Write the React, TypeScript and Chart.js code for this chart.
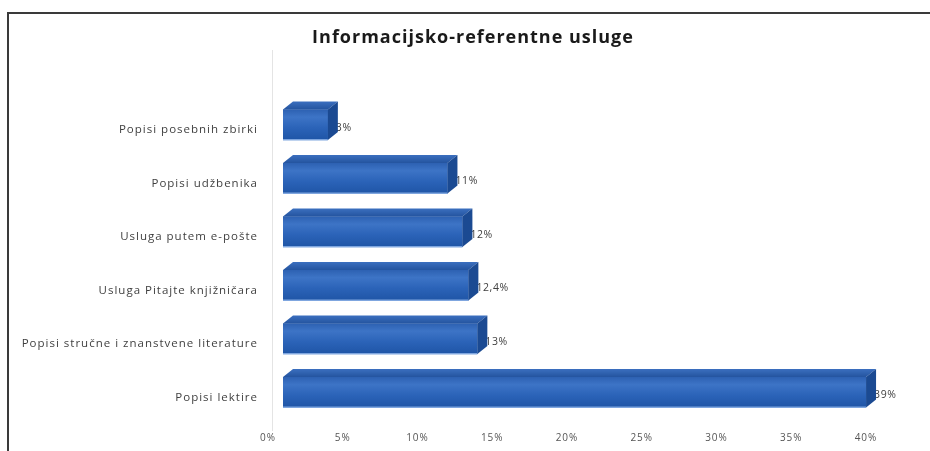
import React, { useEffect, useRef } from "react";
import { Chart, registerables } from "chart.js";

Chart.register(...registerables);

const categories = [
  "Popisi posebnih zbirki",
  "Popisi udžbenika",
  "Usluga putem e-pošte",
  "Usluga Pitajte knjižničara",
  "Popisi stručne i znanstvene literature",
  "Popisi lektire",
];
const values = [3, 11, 12, 12.4, 13, 39];
const valueLabels = ["3%", "11%", "12%", "12,4%", "13%", "39%"];
const titleText = "Informacijsko-referentne usluge";
const xTicks = [0, 5, 10, 15, 20, 25, 30, 35, 40];

const DX = 10;
const DY = -8;

const bar3d = {
  id: "bar3d",
  beforeDraw(chart: any) {
    (chart.ctx as any).letterSpacing = "1px";
  },
  beforeDatasetsDraw(chart: any) {
    const { ctx, chartArea } = chart;
    ctx.save();
    ctx.strokeStyle = "#e4e4e4";
    ctx.lineWidth = 1;
    ctx.beginPath();
    const lx = Math.round(chartArea.left - 11) + 0.5;
    ctx.moveTo(lx, 36);
    ctx.lineTo(lx, chartArea.bottom + 12);
    ctx.stroke();
    ctx.restore();
  },
  afterDatasetsDraw(chart: any) {
    const { ctx } = chart;
    const meta = chart.getDatasetMeta(0);
    ctx.save();
    meta.data.forEach((el: any, i: number) => {
      const p = el.getProps(["x", "y", "base", "height"], true);
      const left = p.base;
      const right = p.x;
      const top = p.y - p.height / 2;
      const bottom = p.y + p.height / 2;
      // value label (slightly covered by side face, as in the reference)
      ctx.fillStyle = "#404040";
      ctx.font = "10.5px 'Open Sans', sans-serif";
      (ctx as any).letterSpacing = "0.6px";
      ctx.textAlign = "left";
      ctx.textBaseline = "middle";
      ctx.fillText(valueLabels[i], right + 8, p.y + 3);
      // front face
      const g = ctx.createLinearGradient(0, top, 0, bottom);
      g.addColorStop(0, "#2d61b2");
      g.addColorStop(0.25, "#3d74c6");
      g.addColorStop(0.6, "#2b63b8");
      g.addColorStop(1, "#1f55a6");
      ctx.fillStyle = g;
      ctx.fillRect(left, top, right - left, bottom - top);
      ctx.fillStyle = "#7fa6df";
      ctx.fillRect(left, bottom - 1, right - left, 1.5);
      // top face
      ctx.beginPath();
      ctx.moveTo(left, top);
      ctx.lineTo(left + DX, top + DY);
      ctx.lineTo(right + DX, top + DY);
      ctx.lineTo(right, top);
      ctx.closePath();
      const gt = ctx.createLinearGradient(0, top + DY, 0, top);
      gt.addColorStop(0, "#3b6fbf");
      gt.addColorStop(1, "#24549f");
      ctx.fillStyle = gt;
      ctx.fill();
      // side face
      ctx.beginPath();
      ctx.moveTo(right, top);
      ctx.lineTo(right + DX, top + DY);
      ctx.lineTo(right + DX, bottom + DY);
      ctx.lineTo(right, bottom);
      ctx.closePath();
      ctx.fillStyle = "#1b4a92";
      ctx.fill();
    });
    ctx.restore();
  },
  afterDraw(chart: any) {
    const { ctx } = chart;
    ctx.save();
    ctx.fillStyle = "#1a1a1a";
    ctx.font = "bold 18px 'Open Sans', sans-serif";
    (ctx as any).letterSpacing = "1px";
    ctx.textAlign = "center";
    ctx.textBaseline = "middle";
    ctx.fillText(titleText, 464, 24);
    ctx.restore();
  },
};

export default function App() {
  const ref = useRef<HTMLCanvasElement | null>(null);
  useEffect(() => {
    if (!ref.current) return;
    const chart = new Chart(ref.current, {
      type: "bar",
      data: {
        labels: categories,
        datasets: [
          {
            data: values,
            backgroundColor: "#2b63b8",
            borderWidth: 0,
            categoryPercentage: 1,
            barPercentage: 0.57,
          },
        ],
      },
      options: {
        indexAxis: "y",
        animation: false,
        responsive: false,
        devicePixelRatio: 1,
        layout: { padding: { left: 0, right: 49, top: 84, bottom: 0 } },
        plugins: {
          legend: { display: false },
          tooltip: { enabled: false },
          title: { display: false },
        },
        scales: {
          x: {
            min: 0,
            max: 40,
            afterBuildTicks: (s: any) => {
              s.ticks = xTicks.map((v) => ({ value: v }));
            },
            afterFit: (s: any) => {
              s.height = 32;
            },
            grid: { display: false, drawTicks: false },
            border: { display: false },
            ticks: {
              color: "#555555",
              font: { family: "'Open Sans', sans-serif", size: 10 },
              labelOffset: -15,
              padding: 13,
              maxRotation: 0,
              callback: (v: any) => v + "%",
            },
          },
          y: {
            afterFit: (s: any) => {
              s.width = 274;
            },
            grid: { display: false, drawTicks: false },
            border: { display: false },
            ticks: {
              color: "#3f3f3f",
              font: { family: "'Open Sans', sans-serif", size: 11.5 },
              padding: 25,
              labelOffset: 5,
            },
          },
        },
      },
      plugins: [bar3d],
    });
    return () => chart.destroy();
  }, []);

  return (
    <div
      style={{
        position: "absolute",
        left: 0,
        top: 0,
        width: 930,
        height: 451,
        background: "#ffffff",
        overflow: "hidden",
      }}
    >
      <div
        style={{
          position: "absolute",
          left: 7,
          top: 12,
          right: 0,
          bottom: 0,
          borderTop: "2px solid #3a3a3a",
          borderLeft: "2px solid #3a3a3a",
        }}
      />
      <canvas
        ref={ref}
        width={921}
        height={437}
        style={{ position: "absolute", left: 9, top: 14, width: 921, height: 437 }}
      />
    </div>
  );
}
